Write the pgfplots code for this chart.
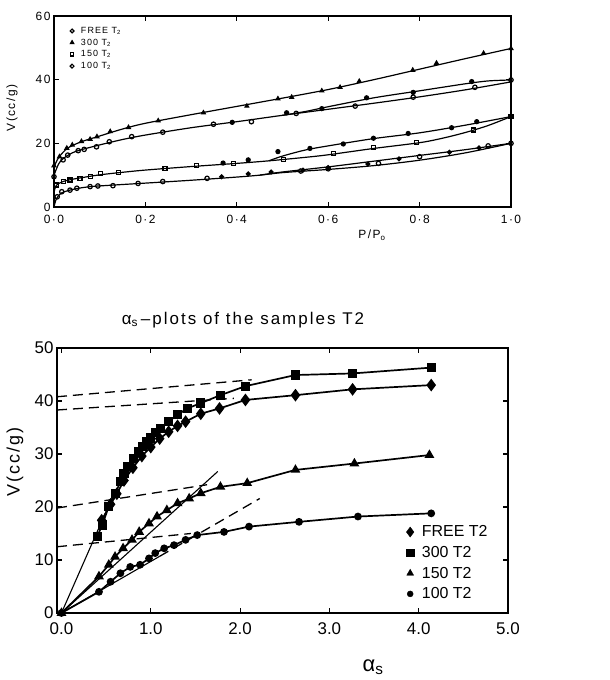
\documentclass[border=0pt]{standalone}
\usepackage{fontspec}
\setmainfont{Liberation Sans}
\newfontfamily\spaced[LetterSpace=12]{Liberation Sans}
\usepackage{pgfplots}
\pgfplotsset{compat=1.18}

\pgfplotsset{
  common/.style={
    scale only axis, anchor=south west,
    axis line style={line width=1.3bp},
    tick align=inside, major tick length=5bp,
    tick style={line width=1.1bp, black},
    /pgf/number format/assume math mode=true,
    legend cell align=left,
  },
  onemark/.style={legend image code/.code={\draw[##1] plot coordinates {(0cm,0cm)};}},
}

\begin{document}
\begin{tikzpicture}
\path[use as bounding box] (0,0) rectangle (610bp,680bp);

% ---- isotherms ----
\begin{axis}[common,
  at={(54bp,473bp)}, width=457bp, height=191bp,
  xmin=0, xmax=1, ymin=0, ymax=60,
  xtick={0,0.2,0.4,0.6,0.8,1},
  xticklabels={0·0,0·2,0·4,0·6,0·8,1·0},
  ytick={0,20,40,60},
  ticklabel style={font=\spaced\fontsize{12}{13}\selectfont},
  xticklabel style={yshift=-5bp},
  legend style={draw=none, fill=none, at={(axis cs:0.035,57.2)}, anchor=north west,
    font=\spaced\fontsize{9}{10}\selectfont, row sep=0bp, column sep=5bp, inner sep=0pt},
  every axis plot/.append style={black, line width=1.2bp},
]
% legend
\addlegendimage{onemark, only marks, mark=o, mark size=1.9bp}
\addlegendentry{FREE T\textsubscript{2}}
\addlegendimage{onemark, only marks, mark=triangle*, mark size=1.9bp}
\addlegendentry{300 T\textsubscript{2}}
\addlegendimage{onemark, only marks, mark=square, mark size=1.7bp}
\addlegendentry{150 T\textsubscript{2}}
\addlegendimage{onemark, only marks, mark=o, mark size=1.9bp}
\addlegendentry{100 T\textsubscript{2}}

% 300 T2
\addplot[no marks, smooth, forget plot] coordinates {(0,12.5)(0.01,15.5)(0.03,18.5)(0.06,20.5)(0.1,22.3)(0.15,24.5)(0.2,26.3)(0.3,29.0)(0.4,31.6)(0.5,34.2)(0.6,36.9)(0.7,40.0)(0.8,43.3)(0.9,46.6)(1.0,49.8)};
\addplot[only marks, mark=triangle*, mark size=2.1bp, forget plot] coordinates {(0,13)(0.012,15.8)(0.028,18.5)(0.04,19.5)(0.06,20.6)(0.079,21.3)(0.094,22.1)(0.123,23.7)(0.163,25.0)(0.228,27.1)(0.327,29.6)(0.422,31.7)(0.49,34.0)(0.52,34.5)(0.586,36.5)(0.626,37.6)(0.668,39.5)(0.785,43.0)(0.837,45.2)(0.94,48.3)(1.0,49.8)};

% FREE T2
\addplot[no marks, smooth, forget plot] coordinates {(0,10)(0.01,13.5)(0.02,15.2)(0.04,17.0)(0.06,18.0)(0.1,19.5)(0.15,21.2)(0.2,22.6)(0.3,24.9)(0.4,26.8)(0.5,28.8)(0.6,30.7)(0.7,32.6)(0.8,34.6)(0.9,36.8)(1.0,39.3)};
\addplot[no marks, smooth, forget plot] coordinates {(0.5,28.8)(0.55,30.0)(0.6,31.5)(0.7,34.3)(0.8,36.5)(0.9,38.7)(0.95,39.6)(1.0,39.9)};
\addplot[only marks, mark=o, fill=white, mark size=2.2bp, forget plot] coordinates {(0,9.5)(0.02,14.8)(0.03,16.3)(0.053,17.7)(0.066,18.1)(0.093,18.9)(0.121,20.5)(0.17,22.1)(0.238,23.5)(0.349,26.0)(0.432,26.8)(0.53,29.4)(0.659,31.7)(0.786,34.5)(0.921,37.6)(1.0,39.9)};
\addplot[only marks, mark=*, mark size=2bp, forget plot] coordinates {(0.39,26.6)(0.509,29.6)(0.586,30.9)(0.684,34.3)(0.786,36.0)(0.914,39.4)};

% 150 T2
\addplot[no marks, smooth, forget plot] coordinates {(0,4.5)(0.005,6.8)(0.02,8.0)(0.04,8.7)(0.06,9.2)(0.1,10.1)(0.15,10.9)(0.2,11.6)(0.3,12.7)(0.4,13.7)(0.47,14.5)(0.55,15.6)(0.6,16.4)(0.7,18.4)(0.8,20.2)(0.85,21.6)(0.9,23.4)(0.95,25.6)(1.0,28.4)};
\addplot[no marks, smooth, forget plot] coordinates {(0.47,14.5)(0.5,16.0)(0.55,17.9)(0.6,19.2)(0.7,21.5)(0.8,23.3)(0.9,25.7)(1.0,28.4)};
\addplot[only marks, mark=square, fill=white, mark size=2bp, forget plot] coordinates {(0.005,6.9)(0.021,8.0)(0.035,8.5)(0.057,9.0)(0.079,9.7)(0.101,10.4)(0.141,10.8)(0.243,12.2)(0.312,13.0)(0.392,13.7)(0.502,14.8)(0.611,16.7)(0.699,18.6)(0.794,20.2)(0.918,24.2)(1.0,28.4)};
\addplot[only marks, mark=*, mark size=2bp, forget plot] coordinates {(0.37,13.8)(0.425,14.8)(0.49,17.4)(0.56,18.4)(0.633,19.8)(0.699,21.6)(0.775,23.1)(0.87,24.9)(0.925,26.8)};

% 100 T2
\addplot[no marks, smooth, forget plot] coordinates {(0,0)(0.005,2.5)(0.015,4.3)(0.03,5.1)(0.05,5.8)(0.08,6.4)(0.12,6.8)(0.2,7.5)(0.3,8.4)(0.4,9.4)(0.45,10.0)(0.5,10.8)(0.6,11.8)(0.7,13.0)(0.8,14.7)(0.9,17.0)(1.0,20.0)};
\addplot[no marks, smooth, forget plot] coordinates {(0.45,10.0)(0.5,11.0)(0.6,12.6)(0.7,14.4)(0.8,16.2)(0.9,18.0)(1.0,20.0)};
\addplot[only marks, mark=o, fill=white, mark size=2.2bp, forget plot] coordinates {(0.007,3.2)(0.017,4.8)(0.035,5.3)(0.05,5.9)(0.079,6.4)(0.096,6.6)(0.129,6.7)(0.184,7.4)(0.238,8.0)(0.335,9.0)(0.54,11.3)(0.6,12.0)(0.71,13.7)(0.8,15.8)(0.95,19.2)(1.0,20.0)};
\addplot[only marks, mark=*, mark size=1.9bp, forget plot] coordinates {(0.367,9.5)(0.425,10.4)(0.475,11.0)(0.545,11.6)(0.6,12.4)(0.687,13.5)(0.755,15.1)(0.865,17.2)(0.93,18.6)};
\end{axis}

% ---- alpha_s plots ----
\begin{axis}[common,
  at={(57bp,67bp)}, width=451bp, height=265bp,
  xmin=-0.05, xmax=5, ymin=0, ymax=50,
  xtick={0,1,2,3,4,5},
  xticklabels={0.0,1.0,2.0,3.0,4.0,5.0},
  ytick={0,10,20,30,40,50},
  ticklabel style={font=\fontsize{17}{18}\selectfont},
  xticklabel style={yshift=-6bp},
  legend style={draw=none, fill=none, at={(axis cs:3.86,2.0)}, anchor=south west,
    font=\fontsize{16}{17}\selectfont, row sep=4bp, column sep=6bp, inner sep=0pt},
  every axis plot/.append style={black},
]
\addlegendimage{onemark, only marks, mark=diamond*, mark size=5bp}
\addlegendentry{FREE T2}
\addlegendimage{onemark, only marks, mark=square*, mark size=3.8bp}
\addlegendentry{300 T2}
\addlegendimage{onemark, only marks, mark=triangle*, mark size=4bp}
\addlegendentry{150 T2}
\addlegendimage{onemark, only marks, mark=*, mark size=3bp}
\addlegendentry{100 T2}

% t-lines and fits
\addplot[no marks, line width=1.1bp, forget plot] coordinates {(0,0)(0.6,23.0)};
\addplot[no marks, line width=1.1bp, forget plot] coordinates {(0,0)(1.75,26.7)};
\addplot[no marks, line width=1.1bp, forget plot] coordinates {(0,0)(1.1,10.7)};
\addplot[no marks, line width=1.3bp, dash pattern=on 10bp off 6bp, forget plot] coordinates {(1.1,10.7)(2.22,21.6)};
\addplot[no marks, line width=1.3bp, dash pattern=on 10bp off 6bp, forget plot] coordinates {(-0.05,40.8)(2.13,44.0)};
\addplot[no marks, line width=1.3bp, dash pattern=on 10bp off 6bp, forget plot] coordinates {(-0.05,38.3)(1.93,40.5)};
\addplot[no marks, line width=1.3bp, dash pattern=on 10bp off 6bp, forget plot] coordinates {(-0.05,19.8)(1.63,24.2)};
\addplot[no marks, line width=1.3bp, dash pattern=on 10bp off 6bp, forget plot] coordinates {(-0.05,12.5)(1.45,15.0)};

% FREE T2
\addplot[line width=1.7bp, mark=diamond*, mark size=5bp, forget plot] coordinates {(0.45,17.5)(0.55,20.5)(0.62,22.5)(0.70,25.0)(0.8,27.4)(0.9,29.6)(1.0,31.3)(1.1,32.9)(1.2,34.2)(1.3,35.3)(1.39,36.1)(1.56,37.6)(1.77,38.6)(2.06,40.2)(2.62,41.1)(3.26,42.2)(4.14,43.0)};
% 300 T2
\addplot[line width=1.7bp, mark=square*, mark size=3.8bp, forget plot] coordinates {(0.40,14.4)(0.456,16.6)(0.53,20.1)(0.605,22.6)(0.66,24.8)(0.70,26.3)(0.737,27.6)(0.81,29.2)(0.86,30.4)(0.905,31.4)(0.95,32.3)(0.998,33.0)(1.05,34.0)(1.11,34.8)(1.2,36.1)(1.30,37.4)(1.41,38.6)(1.56,39.6)(1.78,41.1)(2.06,42.8)(2.62,44.9)(3.26,45.2)(4.14,46.3)};
% 150 T2
\addplot[line width=1.7bp, mark=triangle*, mark size=4bp, forget plot] coordinates {(0,0)(0.42,6.9)(0.53,9.1)(0.60,10.6)(0.69,12.2)(0.79,13.8)(0.87,15.3)(0.98,16.9)(1.07,18.2)(1.18,19.4)(1.30,20.7)(1.43,21.6)(1.56,22.6)(1.78,23.8)(2.08,24.5)(2.62,27.0)(3.28,28.2)(4.12,29.8)};
% 100 T2
\addplot[line width=1.7bp, mark=*, mark size=3bp, forget plot] coordinates {(0,0)(0.42,4.0)(0.55,5.9)(0.66,7.5)(0.77,8.7)(0.88,9.1)(0.98,10.3)(1.05,11.3)(1.15,12.2)(1.26,12.8)(1.39,13.8)(1.52,14.7)(1.82,15.3)(2.1,16.3)(2.66,17.2)(3.32,18.2)(4.14,18.8)};
\end{axis}

% axis titles
\node[rotate=90, font=\spaced\fontsize{12}{13}\selectfont] at (12bp,572bp) {V(cc/g)};
\node[font=\spaced\fontsize{12}{13}\selectfont] at (372bp,445bp) {P/P\textsubscript{o}};
\node[font=\spaced\fontsize{17}{19}\selectfont] at (243bp,360bp) {α\textsubscript{s}\,–plots of the samples T2};
\node[rotate=90, font=\spaced\fontsize{18}{20}\selectfont] at (15bp,218bp) {V(cc/g)};
\node[font=\fontsize{22}{24}\selectfont] at (373bp,13bp) {α\textsubscript{s}};
\end{tikzpicture}
\end{document}
